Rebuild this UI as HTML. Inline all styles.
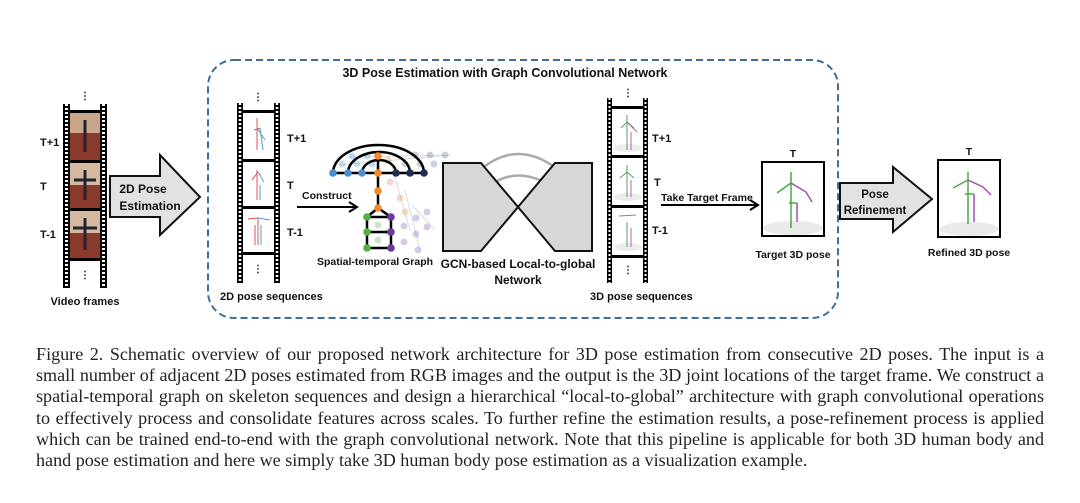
<!DOCTYPE html>
<html><head><meta charset="utf-8"><style>
html,body{margin:0;padding:0;background:#fff;}
body{width:1080px;height:503px;position:relative;overflow:hidden;}
svg{position:absolute;left:0;top:0;}
svg text{font-family:"Liberation Sans",sans-serif;font-weight:bold;fill:#111;}
.cap{position:absolute;left:36px;width:1008px;font-family:"Liberation Serif",serif;font-size:18.1px;color:#222;line-height:21.2px;top:344px;}
.cap div{text-align:justify;text-align-last:justify;white-space:nowrap;}
.cap div.l{text-align-last:left;}
</style></head><body>
<svg width="1080" height="503" viewBox="0 0 1080 503">
<rect x="208" y="60" width="630" height="258" rx="26" fill="none" stroke="#3d6e9e" stroke-width="2" stroke-dasharray="7,4"/>
<text x="505" y="77" font-size="12.5" text-anchor="middle">3D Pose Estimation with Graph Convolutional Network</text>

<g>
<rect x="63" y="104" width="7" height="184" fill="#000"/><line x1="66.5" y1="104" x2="66.5" y2="288" stroke="#fff" stroke-width="3" stroke-dasharray="2,2"/>
<rect x="100" y="104" width="7" height="184" fill="#000"/><line x1="103.5" y1="104" x2="103.5" y2="288" stroke="#fff" stroke-width="3" stroke-dasharray="2,2"/>
<rect x="70" y="110" width="30" height="3" fill="#000"/><rect x="70" y="258" width="30" height="3" fill="#000"/>
<rect x="70" y="113" width="30" height="47" fill="#8a3a2a"/><rect x="70" y="113" width="30" height="20" fill="#c9a58a"/>
<rect x="70" y="160" width="30" height="3" fill="#000"/>
<rect x="70" y="163" width="30" height="45" fill="#8a3a2a"/><rect x="70" y="163" width="30" height="22" fill="#d5b8a0"/>
<rect x="70" y="208" width="30" height="3" fill="#000"/>
<rect x="70" y="211" width="30" height="47" fill="#8a3a2a"/><rect x="70" y="211" width="30" height="22" fill="#d5b8a0"/>
<g stroke="#223" stroke-width="3"><line x1="85" y1="120" x2="85" y2="152"/><line x1="85" y1="170" x2="85" y2="200"/><line x1="85" y1="218" x2="85" y2="250"/><line x1="74" y1="180" x2="96" y2="180"/><line x1="73" y1="228" x2="97" y2="228"/></g>
<text x="85" y="99" font-size="10" text-anchor="middle">⋮</text><text x="85" y="278" font-size="10" text-anchor="middle">⋮</text>
<text x="40" y="146" font-size="11">T+1</text><text x="40" y="190" font-size="11">T</text><text x="40" y="238" font-size="11">T-1</text>
<text x="85" y="305" font-size="11" text-anchor="middle">Video frames</text>
</g>
<polygon points="110,176 160,176 160,155 200,197 160,235 160,217 110,217" fill="#e2e2e2" stroke="#111" stroke-width="2"/>
<text x="143" y="193" font-size="12" text-anchor="middle">2D Pose</text><text x="150" y="210" font-size="12" text-anchor="middle">Estimation</text>

<g>
<rect x="237" y="103" width="6" height="180" fill="#000"/><line x1="240" y1="103" x2="240" y2="283" stroke="#fff" stroke-width="2.5" stroke-dasharray="2,2"/>
<rect x="274" y="103" width="6" height="180" fill="#000"/><line x1="277" y1="103" x2="277" y2="283" stroke="#fff" stroke-width="2.5" stroke-dasharray="2,2"/>
<g fill="#000"><rect x="243" y="110" width="31" height="3"/><rect x="243" y="159" width="31" height="3"/><rect x="243" y="206" width="31" height="3"/><rect x="243" y="252" width="31" height="3"/></g>
<g fill="none" stroke-width="1"><path d="M257 118 L257 150 M254 130 L260 128" stroke="#e05050"/><path d="M260 128 L263 150 M257 128 L265 140" stroke="#4aa0c8"/>
<path d="M257 170 L257 200 M252 180 L258 172" stroke="#e05050"/><path d="M258 172 L264 182 M260 185 L260 200" stroke="#4aa0c8"/>
<path d="M248 219 L258 218 L258 245 M255 225 L255 245" stroke="#e05050"/><path d="M258 218 L270 220 M261 225 L261 245" stroke="#4aa0c8"/></g>
<text x="258" y="100" font-size="10" text-anchor="middle">⋮</text><text x="258" y="272" font-size="10" text-anchor="middle">⋮</text>
<text x="287" y="142" font-size="11">T+1</text><text x="287" y="189" font-size="11">T</text><text x="287" y="236" font-size="11">T-1</text>
<text x="220" y="300" font-size="11">2D pose sequences</text>
</g>
<line x1="297" y1="207" x2="355" y2="207" stroke="#000" stroke-width="2"/><polyline points="349,202 357,207 349,212" fill="none" stroke="#000" stroke-width="2"/>
<text x="302" y="199" font-size="10.5">Construct</text>

<g opacity="0.35" stroke="#999" stroke-width="1" fill="none">
<line x1="340" y1="165" x2="450" y2="155"/><line x1="350" y1="157" x2="447" y2="155"/>
<line x1="390" y1="160" x2="410" y2="230"/><line x1="405" y1="190" x2="420" y2="250"/><line x1="412" y1="205" x2="435" y2="230"/>
</g>
<g opacity="0.4">
<g fill="#6ea6d8"><circle cx="342" cy="164" r="3.5"/><circle cx="357" cy="164" r="3.5"/><circle cx="372" cy="164" r="3.5"/><circle cx="352" cy="156" r="3.5"/><circle cx="367" cy="156" r="3.5"/></g>
<g fill="#8090b0"><circle cx="405" cy="164" r="3.5"/><circle cx="420" cy="164" r="3.5"/><circle cx="434" cy="164" r="3.5"/><circle cx="415" cy="155" r="3.5"/><circle cx="430" cy="155" r="3.5"/><circle cx="445" cy="155" r="3.5"/></g>
<g fill="#e8a070"><circle cx="388" cy="160" r="3.5"/><circle cx="390" cy="182" r="3.5"/><circle cx="400" cy="198" r="3.5"/><circle cx="405" cy="212" r="3.5"/></g>
<g fill="#80c070"><circle cx="378" cy="225" r="3.5"/><circle cx="378" cy="240" r="3.5"/><circle cx="388" cy="232" r="3.5"/></g>
<g fill="#a080c8"><circle cx="404" cy="226" r="3.5"/><circle cx="404" cy="242" r="3.5"/><circle cx="416" cy="218" r="3.5"/><circle cx="416" cy="234" r="3.5"/><circle cx="418" cy="250" r="3.5"/><circle cx="427" cy="212" r="3.5"/><circle cx="427" cy="227" r="3.5"/></g>
</g>
<g fill="none" stroke="#000" stroke-width="2.5">
<path d="M333 173 A45.5 28 0 0 1 424 173"/><path d="M348 173 A31 21 0 0 1 410 173"/><path d="M362 173 A17 13 0 0 1 396 173"/>
<line x1="333" y1="173" x2="424" y2="173"/><line x1="378" y1="156" x2="378" y2="208"/>
<polyline points="378,208 367,217 367,248 391,248 391,217 378,208"/><line x1="367" y1="232" x2="391" y2="232"/><line x1="367" y1="217" x2="391" y2="217"/>
</g>
<g fill="#4a90d0"><circle cx="333" cy="173" r="3.8"/><circle cx="348" cy="173" r="3.8"/><circle cx="362" cy="173" r="3.8"/></g>
<g fill="#1e2e55"><circle cx="396" cy="173" r="3.8"/><circle cx="410" cy="173" r="3.8"/><circle cx="424" cy="173" r="3.8"/></g>
<g fill="#f08a2a"><circle cx="378" cy="156" r="3.8"/><circle cx="378" cy="173" r="3.8"/><circle cx="378" cy="191" r="3.8"/><circle cx="378" cy="208" r="3.8"/></g>
<g fill="#58b040"><circle cx="367" cy="217" r="3.8"/><circle cx="367" cy="232" r="3.8"/><circle cx="367" cy="248" r="3.8"/></g>
<g fill="#6a3aa0"><circle cx="391" cy="217" r="3.8"/><circle cx="391" cy="232" r="3.8"/><circle cx="391" cy="248" r="3.8"/></g>
<text x="375" y="265" font-size="10.5" text-anchor="middle">Spatial-temporal Graph</text>

<path d="M485 166 Q518 142 553 166" fill="none" stroke="#aaa" stroke-width="2.5"/>
<path d="M497 181 Q518 170 542 181" fill="none" stroke="#aaa" stroke-width="2.5"/>
<polygon points="443,163 481,163 518,207 481,251 443,251" fill="#d7d7d7" stroke="#111" stroke-width="2"/>
<polygon points="592,163 555,163 518,207 555,251 592,251" fill="#d7d7d7" stroke="#111" stroke-width="2"/>
<text x="518" y="268" font-size="12" text-anchor="middle">GCN-based Local-to-global</text>
<text x="518" y="284" font-size="12" text-anchor="middle">Network</text>

<g>
<rect x="607" y="98" width="5" height="185" fill="#000"/><line x1="609.5" y1="98" x2="609.5" y2="283" stroke="#fff" stroke-width="2" stroke-dasharray="2,2"/>
<rect x="643" y="98" width="5" height="185" fill="#000"/><line x1="645.5" y1="98" x2="645.5" y2="283" stroke="#fff" stroke-width="2" stroke-dasharray="2,2"/>
<g fill="#000"><rect x="612" y="106" width="31" height="3"/><rect x="612" y="155" width="31" height="3"/><rect x="612" y="205" width="31" height="3"/><rect x="612" y="255" width="31" height="3"/></g>
<g fill="#ececec"><ellipse cx="628" cy="148" rx="14" ry="4"/><ellipse cx="628" cy="197" rx="14" ry="4"/><ellipse cx="628" cy="247" rx="14" ry="4"/></g>
<g fill="none" stroke-width="1"><path d="M627 115 L627 150 M621 128 L627 122 L634 128" stroke="#5aa060"/><path d="M631 132 L631 150 M627 122 L637 132" stroke="#b060b0"/>
<path d="M627 165 L627 197 M620 178 L627 172 L634 178" stroke="#5aa060"/><path d="M631 180 L631 197" stroke="#b060b0"/>
<path d="M627 222 L627 247 M619 216 L636 215" stroke="#5aa060"/><path d="M631 228 L631 247" stroke="#b060b0"/></g>
<text x="628" y="96" font-size="10" text-anchor="middle">⋮</text><text x="628" y="273" font-size="10" text-anchor="middle">⋮</text>
<text x="652" y="142" font-size="11">T+1</text><text x="654" y="186" font-size="11">T</text><text x="652" y="234" font-size="11">T-1</text>
<text x="590" y="300" font-size="11">3D pose sequences</text>
</g>
<line x1="661" y1="205" x2="756" y2="205" stroke="#000" stroke-width="2"/><polyline points="750,200 758,205 750,210" fill="none" stroke="#000" stroke-width="2"/>
<text x="661" y="201" font-size="10.5">Take Target Frame</text>
<rect x="762" y="162" width="62" height="74" fill="#fff" stroke="#000" stroke-width="2"/>
<ellipse cx="793" cy="228" rx="30" ry="7" fill="#eaeaea"/>
<g fill="none" stroke-width="1.5"><path d="M791 172 L791 228 M777 193 L791 183" stroke="#4aa84a"/><path d="M791 183 L806 192 L812 202 M797 203 L797 222" stroke="#a050b0"/><path d="M789 203 L797 203" stroke="#4aa84a"/></g>
<text x="793" y="157" font-size="10.5" text-anchor="middle">T</text>
<text x="793" y="258" font-size="10.5" text-anchor="middle">Target 3D pose</text>

<polygon points="840,183 893,183 893,167 932,199 893,232 893,219 840,219" fill="#e2e2e2" stroke="#111" stroke-width="2"/>
<text x="875" y="198" font-size="11.5" text-anchor="middle">Pose</text><text x="875" y="214" font-size="11.5" text-anchor="middle">Refinement</text>
<rect x="938" y="160" width="62" height="77" fill="#fff" stroke="#000" stroke-width="2"/>
<ellipse cx="969" cy="229" rx="30" ry="7" fill="#eaeaea"/>
<g fill="none" stroke-width="1.5"><path d="M968 172 L968 224 M953 188 L968 180" stroke="#4aa84a"/><path d="M968 180 L983 187 L991 195 M974 194 L974 222" stroke="#a050b0"/><path d="M965 194 L974 194" stroke="#4aa84a"/></g>
<text x="969" y="155" font-size="10.5" text-anchor="middle">T</text>
<text x="969" y="256" font-size="10.5" text-anchor="middle">Refined 3D pose</text>
</svg>
<div class="cap">
<div>Figure 2. Schematic overview of our proposed network architecture for 3D pose estimation from consecutive 2D poses. The input is a</div>
<div>small number of adjacent 2D poses estimated from RGB images and the output is the 3D joint locations of the target frame. We construct a</div>
<div>spatial-temporal graph on skeleton sequences and design a hierarchical “local-to-global” architecture with graph convolutional operations</div>
<div>to effectively process and consolidate features across scales. To further refine the estimation results, a pose-refinement process is applied</div>
<div>which can be trained end-to-end with the graph convolutional network. Note that this pipeline is applicable for both 3D human body and</div>
<div class="l">hand pose estimation and here we simply take 3D human body pose estimation as a visualization example.</div>
</div>
</body></html>
